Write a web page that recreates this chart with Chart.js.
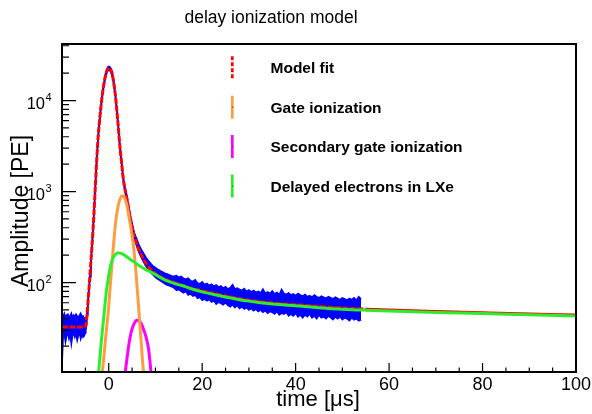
<!DOCTYPE html>
<html>
<head>
<meta charset="utf-8">
<title>delay ionization model</title>
<script src="https://cdn.jsdelivr.net/npm/chart.js@4.4.1/dist/chart.umd.min.js"></script>
<style>
  html, body { margin: 0; padding: 0; background: #fff; }
  #wrap { width: 592px; height: 414px; }
</style>
</head>
<body>
<div id="wrap"><canvas id="c" width="592" height="414"></canvas></div>
<script>
// ── Measured waveform (envelope of the sampled points) ───────────────────────
const dataT = [
  -10, -9.75, -9.5, -9.25, -9, -8.75, -8.5, -8.25, -8, -7.75, -7.5, -7.25, -7, -6.75, -6.5, -6.25, -6, -5.75, -5.5, -5.25, -5.0,
  -4.9, -4.75, -4.6, -4.45, -4.3, -4.15, -4.0, -3.8, -3.6, -3.4, -3.2, -3.0, -2.75, -2.5, -2.25, -2.0, -1.75, -1.5, -1.25, -1.0,
  -0.75, -0.5, -0.25, 0, 0.25, 0.5, 0.75, 1.0, 1.25, 1.5, 1.75, 2.0, 2.25, 2.5, 2.75, 3.0, 3.25, 3.5, 3.75, 4.0, 4.3,
  4.5, 5, 5.5, 6, 6.5, 7, 7.5, 8, 8.5, 9, 9.5, 10, 10.5, 11, 11.5, 12, 12.5, 13, 13.5,
  14, 14.5, 15, 15.5, 16, 16.5, 17, 17.5, 18, 18.5, 19, 19.5, 20, 20.5, 21, 21.5, 22, 22.5, 23, 23.5,
  24, 24.5, 25, 25.5, 26, 26.5, 27, 27.5, 28, 28.5, 29, 29.5, 30, 30.5, 31, 31.5, 32, 32.5, 33, 33.5,
  34, 34.5, 35, 35.5, 36, 36.5, 37, 37.5, 38, 38.5, 39, 39.5, 40, 40.5, 41, 41.5, 42, 42.5, 43, 43.5,
  44, 44.5, 45, 45.5, 46, 46.5, 47, 47.5, 48, 48.5, 49, 49.5, 50, 50.5, 51, 51.5, 52, 52.5, 53, 53.5, 54,
];
const dataHi = [
  44, 43, 46, 41, 44, 45, 42, 43, 46, 41, 44, 42, 45, 43, 41, 44, 46, 42, 43, 41, 40,
  38, 42, 51, 64, 81, 101, 130, 184, 258, 373, 552, 870, 1555, 2700, 4270, 6040, 8150, 10740, 13520, 16280,
  19100, 21400, 23200, 23800, 23500, 22500, 20500, 17400, 14200, 11050, 8000, 5800, 4000, 2900, 2200, 1630, 1300, 1110, 965, 830, 680,
  590, 445, 350, 300, 258, 230, 208, 188, 174, 162, 152, 146, 140, 135, 131, 127, 124, 121, 118,
  117, 119, 114, 117, 111, 109, 112, 105, 103, 107, 99, 97, 102, 95, 98, 93, 96, 91, 94, 89,
  92, 87, 90, 85, 88, 95, 85, 87, 84, 82, 86, 80, 83, 79, 82, 78, 80, 77, 85, 76,
  79, 76, 81, 75, 78, 74, 84, 76, 74, 77, 73, 75, 72, 76, 73, 71, 74, 70, 72, 69,
  73, 70, 68, 71, 69, 67, 70, 68, 66, 69, 67, 65, 68, 66, 64, 67, 65, 68, 64, 70, 66,
];
const dataLo = [
  12, 25, 27, 22, 26, 28, 24, 27, 21, 26, 28, 25, 27, 23, 26, 28, 24, 27, 25, 26, 28,
  30, 33, 44, 56, 72, 91, 116, 164, 232, 337, 498, 790, 1405, 2440, 3860, 5460, 7370, 9720, 12240, 14720,
  17300, 19400, 21000, 21600, 21300, 20300, 18500, 15750, 12800, 9950, 7200, 5200, 3600, 2600, 1980, 1470, 1160, 990, 860, 735, 595,
  525, 385, 300, 250, 212, 186, 166, 150, 139, 128, 121, 114, 109, 105, 101, 97, 94, 92, 90,
  87, 82, 84, 80, 77, 80, 73, 75, 71, 73, 67, 69, 64, 66, 63, 65, 61, 63, 58, 61,
  59, 57, 60, 56, 54, 57, 53, 56, 52, 54, 51, 53, 50, 52, 49, 51, 48, 50, 47, 49,
  46, 48, 47, 45, 48, 44, 46, 45, 47, 43, 45, 43, 46, 42, 44, 41, 44, 42, 45, 41,
  43, 40, 44, 41, 42, 40, 43, 41, 39, 42, 40, 42, 39, 41, 40, 38, 41, 39, 40, 38, 39,
];

// ── Model fit and its components ─────────────────────────────────────────────
const fitT = [
  -10, -7.5, -5.2, -5.0, -4.9, -4.75, -4.6, -4.45, -4.3, -4.15, -4.0, -3.8, -3.6, -3.4, -3.2, -3.0, -2.75, -2.5,
  -2.25, -2.0, -1.75, -1.5, -1.25, -1.0, -0.75, -0.5, -0.25, 0, 0.25, 0.5, 0.75, 1.0, 1.25, 1.5, 1.75, 2.0,
  2.25, 2.5, 2.75, 3.0, 3.25, 3.5, 3.75, 4.0, 4.3, 4.6, 4.9, 5.2, 5.5, 5.9, 6.5, 7.2, 8.0, 9.0, 10, 11,
  12.5, 15, 17.5, 20, 25, 30, 35, 40, 45, 50, 55, 60, 70, 80, 90, 100,
];
const fitY = [
  32.5, 32.5, 32.6, 33, 34, 38, 48, 60, 76, 96, 123, 174, 245, 355, 525, 830, 1480, 2570,
  4070, 5750, 7760, 10230, 12880, 15500, 18200, 20400, 22100, 22700, 22400, 21400, 19500, 16600, 13500, 10500, 7600, 5500,
  3800, 2750, 2090, 1550, 1230, 1050, 910, 780, 630, 515, 430, 360, 315, 275, 226, 190, 162, 138, 125, 116,
  106, 96, 87, 81, 71, 64, 59.5, 57, 54.5, 52.5, 51, 49.8, 48, 46.5, 45.1, 43.9,
];

const gateT = [-1.5, -1.0, -0.5, 0, 0.5, 1.0, 1.5, 2.0, 2.5, 2.9, 3.3, 3.8, 4.3, 4.8, 5.3, 5.8, 6.3, 6.8, 7.4, 7.7];
const gateY = [9, 16, 30, 55, 120, 250, 470, 690, 850, 900, 870, 740, 540, 380, 250, 135, 62, 28, 11, 8];

const secT = [3.4, 3.6, 4.0, 4.5, 5.0, 5.5, 6.0, 6.5, 7.0, 7.5, 8.0, 8.5, 8.8, 9.0, 9.2];
const secY = [9, 11, 16, 24, 31, 36, 38.5, 38, 35, 30, 25, 19, 14, 11, 9];

const delayT = [
  -2.2, -1.75, -1.5, -1.0, -0.5, 0, 0.5, 1.0, 1.5, 2.0, 2.5, 3, 4, 5, 6, 7, 8, 9, 10, 12,
  14, 16, 18, 20, 25, 30, 35, 40, 45, 50, 55, 60, 70, 80, 90, 100,
];
const delayY = [
  10, 18, 25, 45, 80, 120, 160, 190, 205, 212, 210, 205, 190, 174, 160, 148, 138, 130, 122, 107,
  98, 91.5, 84.5, 79, 69.5, 62.5, 58, 55.5, 53, 51, 49.7, 48.7, 47, 45.6, 44.3, 43,
];

// ── Axes ──────────────────────────────────────────────────────────────────────
const X_MIN = -10, X_MAX = 100;
const Y_MIN = 10.4, Y_MAX = 41800;
const xTickLabels = [0, 20, 40, 60, 80, 100];
const yDecades = [100, 1000, 10000];
const legendLabels = ['Model fit', 'Gate ionization', 'Secondary gate ionization', 'Delayed electrons in LXe'];

const FONT = '"Liberation Sans", Arial, Helvetica, sans-serif';
const C_DATA = '#0000ff', C_FIT = '#ff0000', C_GATE = '#ff9c40', C_SEC = '#ff00ff', C_DELAY = '#2bee2b';
const DATA_END = dataT[dataT.length - 1];

const pts = (xs, ys) => xs.map((t, i) => ({ x: t, y: ys[i] }));

const curve = (label, xs, ys, color, order, extra = {}) => ({
  label,
  data: pts(xs, ys),
  borderColor: color,
  borderWidth: 3,
  pointRadius: 0,
  fill: false,
  cubicInterpolationMode: 'monotone',
  order,
  ...extra,
});

// ROOT-style frame: ticks inside, labels and titles drawn by hand
const rootFrame = {
  id: 'rootFrame',
  afterDraw(chart) {
    const { ctx, chartArea: a, scales: { x, y } } = chart;
    ctx.save();

    ctx.strokeStyle = '#000';
    ctx.lineWidth = 2;
    ctx.strokeRect(a.left, a.top, a.right - a.left, a.bottom - a.top);

    ctx.lineWidth = 1.2;
    ctx.beginPath();
    for (let v = X_MIN; v <= X_MAX; v += 5) {
      const px = x.getPixelForValue(v);
      const len = v % 20 === 0 ? 9 : 4.5;
      ctx.moveTo(px, a.bottom);
      ctx.lineTo(px, a.bottom - len);
    }
    for (let d = 10; d <= 1e4; d *= 10) {
      for (let m = 1; m < 10; m++) {
        const v = m * d;
        if (v < Y_MIN || v > Y_MAX) continue;
        const py = y.getPixelForValue(v);
        ctx.moveTo(a.left, py);
        ctx.lineTo(a.left + (m === 1 ? 14 : 7), py);
      }
    }
    ctx.stroke();

    ctx.fillStyle = '#000';
    ctx.textBaseline = 'alphabetic';

    // x tick labels
    ctx.font = `18px ${FONT}`;
    ctx.textAlign = 'center';
    xTickLabels.forEach(v => ctx.fillText(String(v), x.getPixelForValue(v), 390));

    // y decade labels: 10 with superscript exponent
    yDecades.forEach(v => {
      const py = y.getPixelForValue(v);
      ctx.font = `16.5px ${FONT}`;
      ctx.textAlign = 'right';
      ctx.fillText('10', 45, py + 8.6);
      ctx.font = `11px ${FONT}`;
      ctx.textAlign = 'left';
      ctx.fillText(String(Math.round(Math.log10(v))), 45.5, py + 0.5);
    });

    // titles
    ctx.textAlign = 'center';
    ctx.font = `17.5px ${FONT}`;
    ctx.fillText('delay ionization model', 271, 23);
    ctx.font = `22px ${FONT}`;
    ctx.fillText('time [\u03bcs]', 318, 406);
    ctx.save();
    ctx.translate(28, 211);
    ctx.rotate(-Math.PI / 2);
    ctx.font = `23px ${FONT}`;
    ctx.fillText('Amplitude [PE]', 0, 0);
    ctx.restore();

    // legend with short vertical line markers
    const colors = [C_FIT, C_GATE, C_SEC, C_DELAY];
    const base = [73.3, 112.7, 152, 191.5];
    legendLabels.forEach((txt, i) => {
      const cy = base[i] - 5.5;
      ctx.strokeStyle = colors[i];
      ctx.lineWidth = 2.7;
      ctx.setLineDash(i === 0 ? [4, 2] : []);
      ctx.beginPath();
      ctx.moveTo(232.3, cy - 11.5);
      ctx.lineTo(232.3, cy + 11.5);
      ctx.stroke();
      ctx.setLineDash([]);
      if (i > 0) {
        ctx.fillStyle = '#444';
        ctx.fillRect(232, cy - 0.5, 1, 1);
      }
      ctx.fillStyle = '#000';
      ctx.font = `bold 15.5px ${FONT}`;
      ctx.textAlign = 'left';
      ctx.fillText(txt, 270.5, base[i]);
    });

    ctx.restore();
  },
};

new Chart(document.getElementById('c'), {
  type: 'line',
  data: {
    datasets: [
      curve(legendLabels[3], delayT, delayY, C_DELAY, 0),
      curve(legendLabels[1], gateT, gateY, C_GATE, 1),
      curve(legendLabels[2], secT, secY, C_SEC, 2),
      // dashed over the data so the points show through, plain beyond it
      curve(legendLabels[0], fitT, fitY, C_FIT, 3, {
        segment: { borderDash: ctx => (ctx.p0.parsed.x < DATA_END ? [6, 1.5] : undefined) },
      }),
      {
        label: 'data upper',
        data: pts(dataT, dataHi),
        borderColor: C_DATA,
        backgroundColor: C_DATA,
        borderWidth: 1.5,
        pointRadius: 0,
        tension: 0,
        fill: '+1',
        order: 4,
      },
      {
        label: 'data lower',
        data: pts(dataT, dataLo),
        borderColor: C_DATA,
        borderWidth: 1.5,
        pointRadius: 0,
        tension: 0,
        fill: false,
        order: 5,
      },
    ],
  },
  options: {
    responsive: false,
    animation: false,
    devicePixelRatio: 1,
    layout: { padding: { left: 62, right: 16, top: 44, bottom: 42 } },
    plugins: {
      legend: { display: false },
      title: { display: false },
      tooltip: { enabled: false },
    },
    scales: {
      x: { type: 'linear', min: X_MIN, max: X_MAX, display: false },
      y: { type: 'logarithmic', min: Y_MIN, max: Y_MAX, display: false },
    },
  },
  plugins: [rootFrame],
});
</script>
</body>
</html>
